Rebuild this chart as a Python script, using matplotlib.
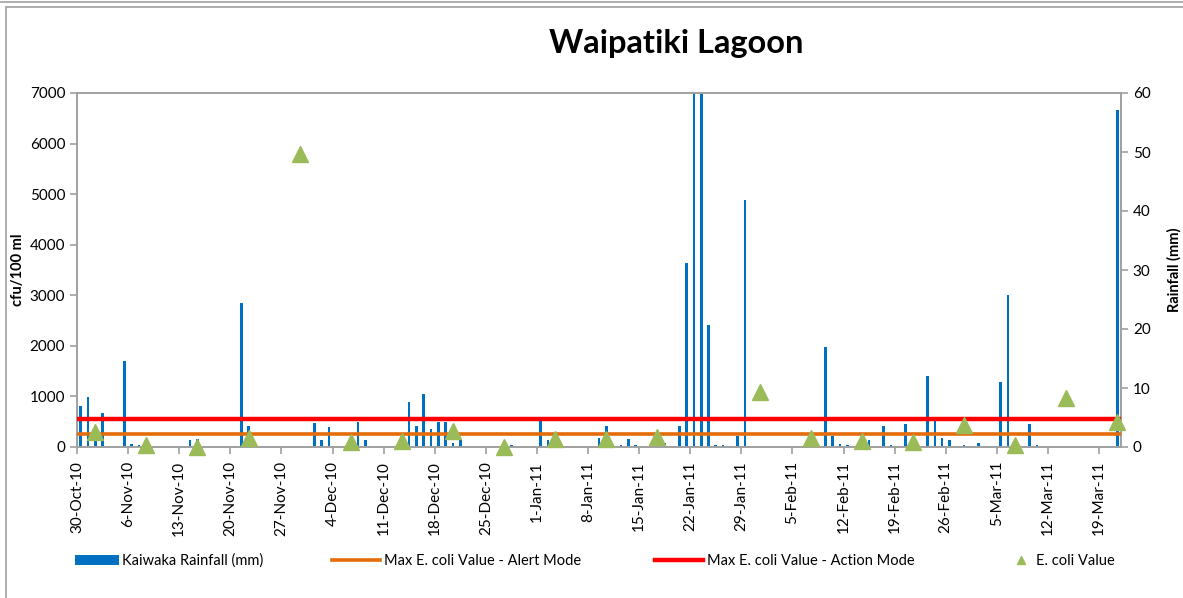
import matplotlib
matplotlib.use("Agg")
import matplotlib.pyplot as plt
import matplotlib.dates as mdates
from matplotlib.patches import Rectangle
from matplotlib.lines import Line2D
import numpy as np
import datetime as dt

plt.rcParams['font.family'] = ['Lato', 'DejaVu Sans']

# ---------------- data ----------------
rain_dates = ["2010-10-30", "2010-10-31", "2010-11-01", "2010-11-02", "2010-11-05", "2010-11-06",
              "2010-11-07", "2010-11-14", "2010-11-15", "2010-11-21", "2010-11-22", "2010-12-01",
              "2010-12-02", "2010-12-03", "2010-12-07", "2010-12-08", "2010-12-14", "2010-12-15",
              "2010-12-16", "2010-12-17", "2010-12-18", "2010-12-19", "2010-12-20", "2010-12-21",
              "2010-12-28", "2011-01-01", "2011-01-02", "2011-01-09", "2011-01-10", "2011-01-12",
              "2011-01-13", "2011-01-14", "2011-01-18", "2011-01-20", "2011-01-21", "2011-01-22",
              "2011-01-23", "2011-01-24", "2011-01-25", "2011-01-26", "2011-01-28", "2011-01-29",
              "2011-02-09", "2011-02-10", "2011-02-11", "2011-02-12", "2011-02-15", "2011-02-17",
              "2011-02-18", "2011-02-20", "2011-02-23", "2011-02-24", "2011-02-25", "2011-02-26",
              "2011-02-28", "2011-03-02", "2011-03-05", "2011-03-06", "2011-03-07", "2011-03-09",
              "2011-03-10", "2011-03-21"]
rain_mm = [6.9, 8.4, 2.5, 5.8, 14.5, 0.5,
           0.3, 1.2, 1.4, 24.4, 3.6, 4.1,
           1.2, 3.4, 4.3, 1.2, 7.7, 3.6,
           8.9, 3.1, 4.3, 4.3, 0.6, 1.2,
           0.3, 5.0, 1.2, 1.6, 3.6, 0.3,
           1.4, 0.3, 0.6, 3.6, 31.2, 75.0,
           70.0, 20.7, 0.3, 0.3, 1.8, 41.9,
           16.9, 1.8, 0.5, 0.3, 1.2, 3.6,
           0.3, 3.9, 12.1, 5.0, 1.6, 1.2,
           0.3, 0.6, 11.1, 25.8, 1.4, 3.9,
           0.3, 57.1]

ecoli_dates = ["2010-11-01", "2010-11-08", "2010-11-15", "2010-11-22", "2010-11-29", "2010-12-06",
               "2010-12-13", "2010-12-20", "2010-12-27", "2011-01-03", "2011-01-10", "2011-01-17",
               "2011-01-31", "2011-02-07", "2011-02-14", "2011-02-21", "2011-02-28", "2011-03-07",
               "2011-03-14", "2011-03-21"]
ecoli_cfu = [300, 40, 5, 185, 5800, 105,
             110, 320, 5, 165, 150, 200,
             1090, 170, 120, 100, 430, 30,
             970, 495]

alert_value = 260
action_value = 550

x_start = "2010-10-30"
x_end = "2011-03-22"

# ---------------- figure ----------------
W, H = 1183, 598
fig = plt.figure(figsize=(W / 100, H / 100), dpi=100)

# outer chart frame
fig.add_artist(Line2D([0, 1], [1 - 2 / H, 1 - 2 / H], transform=fig.transFigure, color="#A0A0A0", lw=1.2))
fig.add_artist(Rectangle((6 / W, -0.05), 1.1, 1 - 7 / H + 0.05, transform=fig.transFigure,
                         fill=False, edgecolor="#A0A0A0", lw=1.2))

left, right, top, bottom = 77, 1121, 93, 447
ax = fig.add_axes([left / W, 1 - bottom / H, (right - left) / W, (bottom - top) / H])
ax2 = ax.twinx()
ax.set_zorder(ax2.get_zorder() + 1)
ax.patch.set_visible(False)
ax2.patch.set_facecolor("#F2F2F2")

def to_num(s):
    return mdates.date2num(dt.datetime.strptime(s, "%Y-%m-%d"))

half = 0.5
rx = np.array([to_num(d) for d in rain_dates]) + half
ex = np.array([to_num(d) for d in ecoli_dates]) + half
x0, x1 = to_num(x_start), to_num(x_end)

bars = ax2.bar(rx, rain_mm, width=0.36, color="#0070C0", label="Kaiwaka Rainfall (mm)", zorder=2)
ax2.set_ylim(0, 60)
ax2.set_yticks(np.arange(0, 61, 10))

l_alert = ax.axhline(alert_value, color="#E46C0A", lw=2.6, label="Max E. coli Value - Alert Mode", zorder=3)
l_action = ax.axhline(action_value, color="#FF0000", lw=3.2, label="Max E. coli Value - Action Mode", zorder=3)
pts, = ax.plot(ex, ecoli_cfu, linestyle="none", marker="^", ms=11, color="#9BBB59",
               markeredgecolor="#9BBB59", clip_on=False, zorder=5, label="E. coli Value")

ax.set_xlim(x0, x1)
ax.set_ylim(0, 7000)
ax.set_yticks(np.arange(0, 7001, 1000))
ticks = np.arange(x0, x1, 7)
ax.set_xticks(ticks)
ax.set_xticklabels([mdates.num2date(t).strftime("%-d-%b-%y") for t in ticks], rotation=90)

spine_c = "#A0A0A0"
for a in (ax, ax2):
    for s in a.spines.values():
        s.set_color(spine_c)
        s.set_linewidth(1.2)
    a.tick_params(colors=spine_c, labelcolor="black", labelsize=11, length=5, width=1.2)
ax.tick_params(axis="x", pad=5)

ax.set_ylabel("cfu/100 ml", fontsize=10.5, fontweight="bold")
ax.yaxis.set_label_coords((25 - left) / (right - left), 0.5)
ax2.set_ylabel("Rainfall (mm)", fontsize=10.5, fontweight="bold")
ax2.yaxis.set_label_coords((1167 - left) / (right - left), 0.5)

fig.text(676 / W, 1 - 44 / H, "Waipatiki Lagoon", ha="center", va="center",
         fontsize=23.5, fontweight="bold")

# legend entries
ly = 1 - 561 / H
entries = [(bars, 75, 3.0), (l_alert, 332, 3.3), (l_action, 655, 3.3), (pts, 1010, 1.5)]
for h, xpx, hl in entries:
    lg = fig.legend([h], [h.get_label()], loc="center left", bbox_to_anchor=(xpx / W, ly),
                    frameon=False, fontsize=10.5, handlelength=hl, handletextpad=0.25,
                    borderpad=0, borderaxespad=0, markerscale=0.55, handleheight=0.6)

fig.savefig("out.png", dpi=100)
